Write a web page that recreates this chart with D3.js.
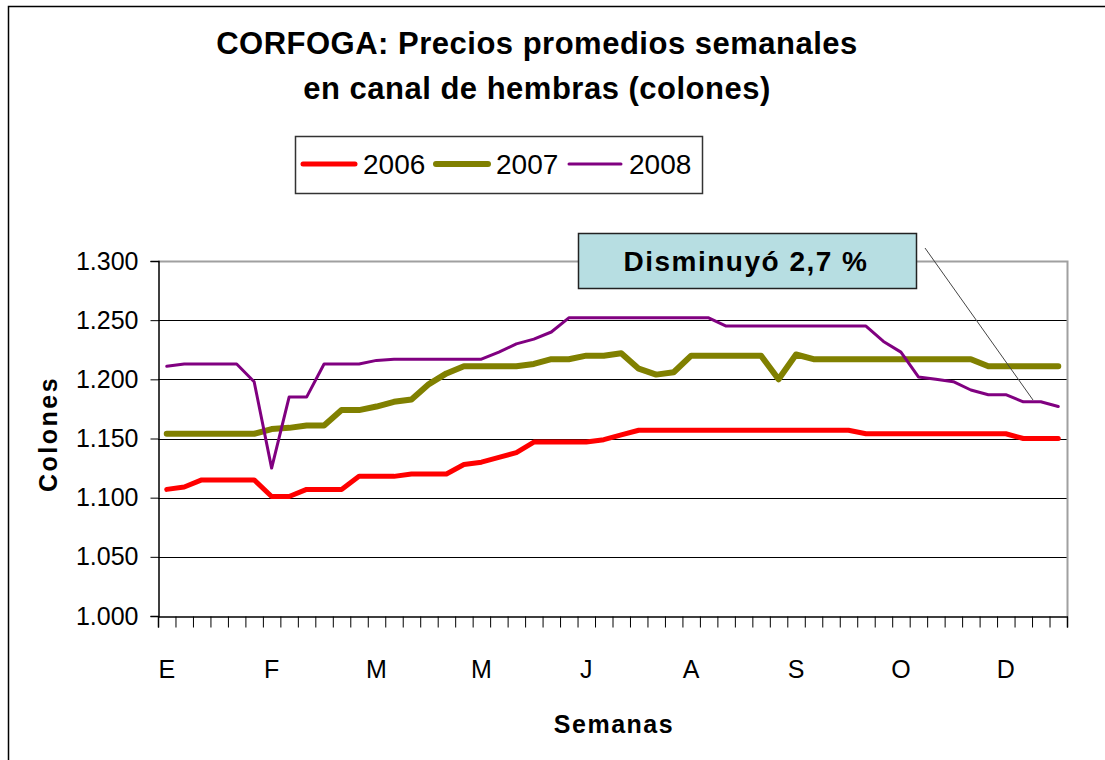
<!DOCTYPE html>
<html>
<head>
<meta charset="utf-8">
<script src="https://cdn.jsdelivr.net/npm/d3@7"></script>
<style>
  body { margin: 0; background: #fff; }
  svg { font-family: "Liberation Sans", Arial, sans-serif; }
  .axis text { font-size: 25px; fill: #000; }
  .axis path, .axis line { stroke: #000; }
</style>
</head>
<body>
<div id="containerChart"></div>
<script>
// weekly prices, colones (52 weeks)
var weeks = d3.range(52);
var monthLabels = ["E", "F", "M", "M", "J", "A", "S", "O", "D"];
var yTicks = [1000, 1050, 1100, 1150, 1200, 1250, 1300];

var prices2006 = [1107, 1109, 1115, 1115, 1115, 1115, 1101, 1101, 1107, 1107, 1107, 1118,
  1118, 1118, 1120, 1120, 1120, 1128, 1130, 1134, 1138, 1147, 1147, 1147, 1147, 1149, 1153,
  1157, 1157, 1157, 1157, 1157, 1157, 1157, 1157, 1157, 1157, 1157, 1157, 1157,
  1154, 1154, 1154, 1154, 1154, 1154, 1154, 1154, 1154,
  1150, 1150, 1150];
var prices2007 = [1154, 1154, 1154, 1154, 1154, 1154, 1158, 1159, 1161, 1161, 1174, 1174,
  1177, 1181, 1183, 1196, 1205, 1211, 1211, 1211, 1211, 1213, 1217, 1217, 1220, 1220,
  1222, 1209, 1204, 1206, 1220, 1220, 1220, 1220, 1220, 1200, 1221, 1217,
  1217, 1217, 1217, 1217, 1217, 1217, 1217, 1217, 1217,
  1211, 1211, 1211, 1211, 1211];
var prices2008 = [1211, 1213, 1213, 1213, 1213, 1198, 1125, 1185, 1185, 1213, 1213, 1213,
  1216, 1217, 1217, 1217, 1217, 1217, 1217, 1223, 1230, 1234, 1240,
  1252, 1252, 1252, 1252, 1252, 1252, 1252, 1252, 1252,
  1245, 1245, 1245, 1245, 1245, 1245, 1245, 1245, 1245,
  1232, 1223, 1202, 1200, 1198, 1191, 1187, 1187, 1181, 1181, 1177];

var seriesNames = ["2006", "2007", "2008"];
var seriesColors = ["#ff0000", "#808000", "#800080"];
var seriesWidths = [5, 6, 3];
var seriesData = [prices2006, prices2007, prices2008];

// characteristics for SVG element
var width = 1105;
var height = 760;
var leftMargin = 158;
var rightEdge = 1067;
var topMargin = 261;
var bottomEdge = 616;

var svg = d3.select("#containerChart")
  .append("svg")
  .attr("width", width)
  .attr("height", height);

// chart border
svg.append("rect")
  .attr("x", 8.5).attr("y", 6.5)
  .attr("width", width + 20).attr("height", height + 20)
  .attr("fill", "none").attr("stroke", "#000").attr("stroke-width", 1.5);

// number format with "." for thousands
var esLocale = d3.formatLocale({ decimal: ",", thousands: ".", grouping: [3], currency: ["", ""] });
var fmt = esLocale.format(",.0f");

// scales
var x = d3.scaleLinear().domain([0, weeks.length]).range([leftMargin, rightEdge]);
var y = d3.scaleLinear().domain([1000, 1300]).range([bottomEdge, topMargin]);

// gridlines
svg.append("g")
  .selectAll("line")
  .data(yTicks.slice(1, -1))
  .enter()
  .append("line")
  .attr("x1", leftMargin).attr("x2", rightEdge)
  .attr("y1", function(d) { return Math.round(y(d)) + 0.5; })
  .attr("y2", function(d) { return Math.round(y(d)) + 0.5; })
  .attr("stroke", "#000").attr("stroke-width", 1);

// plot border top + right (gray)
svg.append("path")
  .attr("d", "M" + leftMargin + "," + (topMargin + 0.5) + "H" + (rightEdge + 0.5) + "V" + bottomEdge)
  .attr("fill", "none").attr("stroke", "#a0a0a0").attr("stroke-width", 2);

// y axis
var yAxis = d3.axisLeft(y).tickValues(yTicks).tickFormat(fmt).tickSize(8).tickPadding(12);
var gy = svg.append("g")
  .attr("class", "axis")
  .attr("transform", "translate(" + (leftMargin + 0.5) + ",0)")
  .call(yAxis);
gy.select(".domain").attr("stroke-width", 1.5);

// x axis: tick marks between weeks, month letters every 6 weeks
var xAxis = d3.axisBottom(x).tickValues(d3.range(weeks.length + 1)).tickFormat("").tickSize(11).tickSizeOuter(11);
var gx = svg.append("g")
  .attr("class", "axis")
  .attr("transform", "translate(0," + (bottomEdge + 0.5) + ")")
  .call(xAxis);
gx.select(".domain").attr("stroke-width", 1.5);

svg.append("g")
  .selectAll("text")
  .data(monthLabels)
  .enter()
  .append("text")
  .attr("x", function(d, i) { return x(i * 6 + 0.5); })
  .attr("y", 678)
  .attr("text-anchor", "middle")
  .style("font-size", "25px")
  .text(function(d) { return d; });

// lines
var line = d3.line()
  .x(function(d, i) { return x(i + 0.5); })
  .y(function(d) { return y(d); });

svg.append("g")
  .selectAll("path")
  .data(seriesData)
  .enter()
  .append("path")
  .attr("d", line)
  .attr("fill", "none")
  .attr("stroke", function(d, i) { return seriesColors[i]; })
  .attr("stroke-width", function(d, i) { return seriesWidths[i]; })
  .attr("stroke-linejoin", "round")
  .attr("stroke-linecap", "round");

// title
svg.append("text")
  .attr("x", 537).attr("y", 54)
  .attr("text-anchor", "middle")
  .style("font-size", "31px").style("font-weight", "bold").style("letter-spacing", "0.5px")
  .text("CORFOGA: Precios promedios semanales");
svg.append("text")
  .attr("x", 537).attr("y", 99)
  .attr("text-anchor", "middle")
  .style("font-size", "31px").style("font-weight", "bold").style("letter-spacing", "0.5px")
  .text("en canal de hembras (colones)");

// axis titles
svg.append("text")
  .attr("x", 614).attr("y", 733)
  .attr("text-anchor", "middle")
  .style("font-size", "25px").style("font-weight", "bold").style("letter-spacing", "1.5px")
  .text("Semanas");
svg.append("text")
  .attr("transform", "translate(57,434) rotate(-90)")
  .attr("text-anchor", "middle")
  .style("font-size", "25px").style("font-weight", "bold").style("letter-spacing", "2.5px")
  .text("Colones");

// legend
var legend = svg.append("g");
legend.append("rect")
  .attr("x", 295.5).attr("y", 136.5)
  .attr("width", 407).attr("height", 57)
  .attr("fill", "#fff").attr("stroke", "#333").attr("stroke-width", 1.5);
var legendX = [303, 436, 569];
seriesNames.forEach(function(name, i) {
  legend.append("line")
    .attr("x1", legendX[i]).attr("x2", legendX[i] + 52)
    .attr("y1", 164).attr("y2", 164)
    .attr("stroke", seriesColors[i])
    .attr("stroke-width", seriesWidths[i])
    .attr("stroke-linecap", "round");
  legend.append("text")
    .attr("x", legendX[i] + 60).attr("y", 174)
    .style("font-size", "28px")
    .text(name);
});

// annotation
svg.append("line")
  .attr("x1", 925).attr("y1", 248)
  .attr("x2", 1033).attr("y2", 400)
  .attr("stroke", "#444").attr("stroke-width", 1);
svg.append("rect")
  .attr("x", 578.5).attr("y", 233.5)
  .attr("width", 338).attr("height", 55)
  .attr("fill", "#b7dee2").attr("stroke", "#222").attr("stroke-width", 1.5);
svg.append("text")
  .attr("x", 746).attr("y", 271)
  .attr("text-anchor", "middle")
  .style("font-size", "28px").style("font-weight", "bold").style("letter-spacing", "1.5px")
  .text("Disminuyó 2,7 %");
</script>
</body>
</html>
